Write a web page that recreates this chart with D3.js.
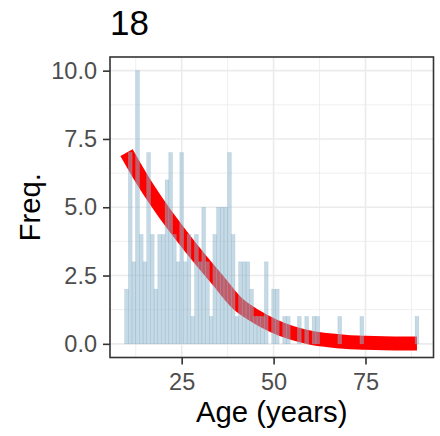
<!DOCTYPE html>
<html>
<head>
<meta charset="utf-8">
<script src="https://cdn.jsdelivr.net/npm/d3@7"></script>
<style>
  html, body { margin: 0; padding: 0; background: #fff; }
  svg { display: block; font-family: "Liberation Sans", Arial, Helvetica, sans-serif; }
</style>
</head>
<body>
<svg id="chart" width="440" height="436"></svg>
<script>
// Histogram: number of people at each age (one-year bins, ages 10–89)
const ages = d3.range(10, 90);
const counts = [
  2, 7, 3, 10, 4, 3, 7, 4, 2, 4,   // 10–19
  4, 6, 7, 4, 3, 7, 3, 4, 1, 4,    // 20–29
  3, 5, 3, 1, 4, 5, 5, 5, 7, 4,    // 30–39
  1, 3, 3, 3, 2, 1, 1, 1, 3, 0,    // 40–49
  2, 2, 0, 1, 1, 0, 0, 1, 0, 1,    // 50–59
  0, 1, 1, 0, 0, 0, 0, 0, 1, 0,    // 60–69
  0, 0, 0, 0, 1, 0, 0, 0, 0, 0,    // 70–79
  0, 0, 0, 0, 0, 0, 0, 0, 0, 1     // 80–89
];

// Fitted frequency curve
const fitAges = [10, 15, 20, 25, 30, 35, 40, 45, 50, 55, 60, 65, 70, 75, 80, 85, 89];
const fitFreq = [7.0, 5.85, 4.85, 3.95, 3.1, 2.3, 1.5, 1.02, 0.66, 0.4, 0.23, 0.13, 0.07, 0.04, 0.02, 0.01, 0.01];

// Axis ticks and labels
const xTicks = [25, 50, 75];
const xMinor = [12.5, 37.5, 62.5, 87.5];
const yTicks = [0, 2.5, 5, 7.5, 10];
const yMinor = [1.25, 3.75, 6.25, 8.75];
const titleText = "18";
const xTitle = "Age (years)";
const yTitle = "Freq.";

const svg = d3.select("#chart");
const panel = { left: 110, right: 433.5, top: 57, bottom: 357.5 };

const x = d3.scaleLinear().domain([5.5, 93.5]).range([panel.left, panel.right]);
const y = d3.scaleLinear().domain([-0.5, 10.5]).range([panel.bottom, panel.top]);

// Grid
const grid = svg.append("g");
grid.selectAll(".xminor").data(xMinor).join("line")
  .attr("x1", d => x(d)).attr("x2", d => x(d))
  .attr("y1", panel.top).attr("y2", panel.bottom)
  .attr("stroke", "#EBEBEB").attr("stroke-width", 0.8);
grid.selectAll(".yminor").data(yMinor).join("line")
  .attr("y1", d => y(d)).attr("y2", d => y(d))
  .attr("x1", panel.left).attr("x2", panel.right)
  .attr("stroke", "#EBEBEB").attr("stroke-width", 0.8);
grid.selectAll(".xmajor").data(xTicks).join("line")
  .attr("x1", d => x(d)).attr("x2", d => x(d))
  .attr("y1", panel.top).attr("y2", panel.bottom)
  .attr("stroke", "#EBEBEB").attr("stroke-width", 1.6);
grid.selectAll(".ymajor").data(yTicks).join("line")
  .attr("y1", d => y(d)).attr("y2", d => y(d))
  .attr("x1", panel.left).attr("x2", panel.right)
  .attr("stroke", "#EBEBEB").attr("stroke-width", 1.6);

// Fitted curve (drawn beneath the translucent bars)
const line = d3.line()
  .x((d, i) => x(fitAges[i]))
  .y(d => y(d))
  .curve(d3.curveMonotoneX);
svg.append("path")
  .datum(fitFreq)
  .attr("d", line)
  .attr("fill", "none")
  .attr("stroke", "#FF0000")
  .attr("stroke-width", 14)
  .attr("stroke-linecap", "butt")
  .attr("stroke-linejoin", "round");

// Bars
svg.append("g").selectAll("rect").data(counts).join("rect")
  .attr("x", (d, i) => x(ages[i] - 0.5))
  .attr("width", (d, i) => x(ages[i] + 0.5) - x(ages[i] - 0.5))
  .attr("y", d => y(d))
  .attr("height", d => y(0) - y(d))
  .attr("fill", "#8DB6CD")
  .attr("fill-opacity", 0.5)
  .attr("stroke", "#8DB6CD")
  .attr("stroke-opacity", 0.5)
  .attr("stroke-width", 0.5);

// Panel border
svg.append("rect")
  .attr("x", panel.left).attr("y", panel.top)
  .attr("width", panel.right - panel.left).attr("height", panel.bottom - panel.top)
  .attr("fill", "none").attr("stroke", "#333333").attr("stroke-width", 1.6);

// Axes
const xAxis = svg.append("g")
  .attr("transform", `translate(0,${panel.bottom})`)
  .call(d3.axisBottom(x).tickValues(xTicks).tickSize(7).tickPadding(8.8).tickFormat(d3.format("d")));
const yAxis = svg.append("g")
  .attr("transform", `translate(${panel.left},0)`)
  .call(d3.axisLeft(y).tickValues(yTicks).tickSize(7).tickPadding(6).tickFormat(d3.format(".1f")));

[xAxis, yAxis].forEach(g => {
  g.select(".domain").remove();
  g.selectAll(".tick line").attr("stroke", "#333333").attr("stroke-width", 1.6);
  g.selectAll(".tick text")
    .attr("fill", "#4D4D4D")
    .style("font-size", "23.5px")
    .style("font-family", "'Liberation Sans', Arial, Helvetica, sans-serif");
});

// Titles
svg.append("text")
  .attr("x", panel.left).attr("y", 35)
  .attr("fill", "#000")
  .style("font-size", "35px")
  .text(titleText);

svg.append("text")
  .attr("x", (panel.left + panel.right) / 2).attr("y", 421.5)
  .attr("text-anchor", "middle")
  .attr("fill", "#000")
  .style("font-size", "29.3px")
  .text(xTitle);

svg.append("text")
  .attr("transform", `translate(39.5,${(panel.top + panel.bottom) / 2}) rotate(-90)`)
  .attr("text-anchor", "middle")
  .attr("fill", "#000")
  .style("font-size", "29.3px")
  .text(yTitle);
</script>
</body>
</html>
